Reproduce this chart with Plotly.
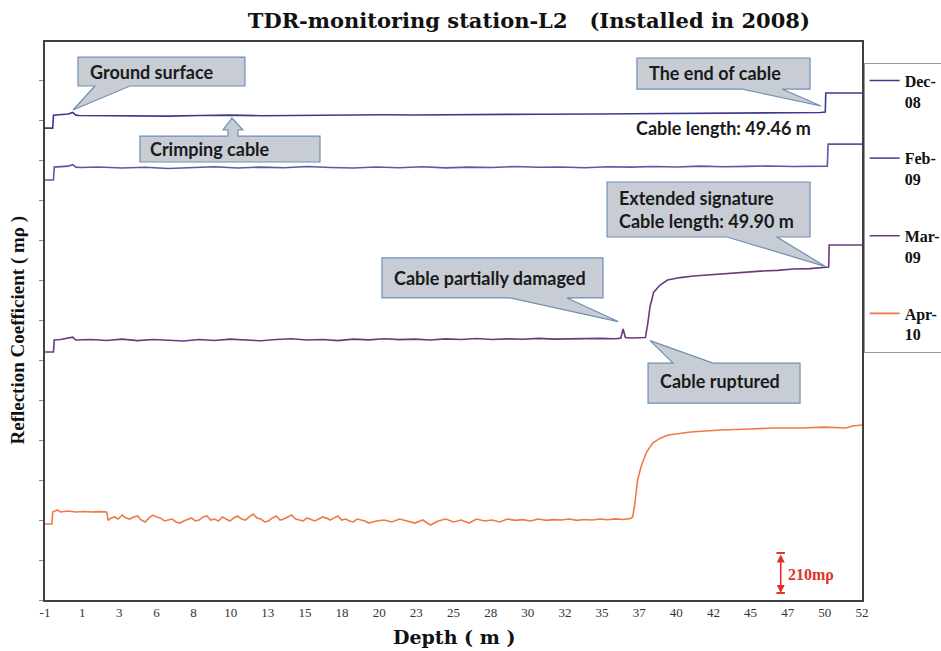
import plotly.graph_objects as go
import numpy as np

# ---------------- data ----------------
x_tick_labels = ["-1", "1", "3", "6", "8", "10", "13", "15", "18", "20", "23", "25",
                 "28", "30", "32", "35", "37", "40", "42", "45", "47", "50", "52"]

# (depth m, reflection coefficient mρ)
dec08_points = [(-1.0, 2478), (-0.5, 2478), (-0.45, 2546), (0.0, 2550), (0.5, 2552), (0.8, 2560),
                (1.0, 2546), (1.2, 2544), (3, 2543), (5, 2545), (7, 2541), (9, 2544), (11, 2546),
                (13, 2543), (15, 2545), (17, 2547), (19, 2546), (21, 2548), (23, 2547), (25, 2549),
                (27, 2548), (29, 2550), (31, 2551), (33, 2550), (35, 2552), (37, 2553), (39, 2554),
                (41, 2556), (43, 2555), (45, 2557), (47, 2558), (48.5, 2557), (49.3, 2560),
                (49.62, 2562), (49.65, 2662), (52.0, 2662)]

feb09_points = [(-1.0, 2205), (-0.45, 2205), (-0.4, 2273), (0.0, 2276), (0.5, 2278), (0.8, 2286),
                (1.0, 2273), (1.3, 2271), (2.5, 2274), (4, 2268), (5.5, 2272), (7, 2266),
                (8.5, 2271), (10, 2275), (11.5, 2268), (13, 2273), (14.5, 2270), (16, 2276),
                (17.5, 2271), (19, 2268), (20.5, 2274), (22, 2270), (23.5, 2275), (25, 2269),
                (26.5, 2273), (28, 2271), (29.5, 2276), (31, 2272), (32.5, 2274), (34, 2270),
                (35.5, 2275), (37, 2273), (38.5, 2276), (40, 2274), (41.5, 2278), (43, 2275),
                (44.5, 2277), (46, 2279), (47.5, 2276), (49, 2279), (49.75, 2278), (49.8, 2394),
                (52.0, 2394)]

mar09_points = [(-1.0, 1302), (-0.45, 1302), (-0.4, 1365), (0.0, 1368), (0.8, 1380), (1.0, 1365),
                (2, 1368), (3, 1363), (4, 1370), (5, 1362), (6, 1368), (7, 1365), (8, 1360),
                (9, 1368), (10, 1363), (11, 1370), (12, 1366), (13, 1361), (14, 1368), (15, 1372),
                (16, 1365), (17, 1368), (18, 1362), (19, 1370), (20, 1366), (21, 1372), (22, 1367),
                (23, 1370), (24, 1365), (25, 1371), (26, 1368), (27, 1373), (28, 1368), (29, 1371),
                (30, 1369), (31, 1374), (32, 1370), (33, 1372), (34, 1371), (35, 1374), (36, 1372),
                (36.35, 1375), (36.5, 1423), (36.65, 1378), (37.0, 1376), (37.5, 1376),
                (37.95, 1378), (38.1, 1450), (38.25, 1540), (38.48, 1615), (38.9, 1654),
                (39.39, 1680), (40.2, 1693), (41.08, 1701), (42.2, 1708), (43.29, 1717),
                (44.4, 1722), (45.43, 1727), (46.5, 1731), (47.57, 1738), (48.6, 1740),
                (49.52, 1746), (49.84, 1748), (49.87, 1864), (52.0, 1864)]

apr10_points = [(-1.0, 399), (-0.55, 399), (-0.5, 462), (-0.2, 473), (0.0, 462), (0.5, 467),
                (1.0, 462), (1.5, 465), (2.0, 462), (2.5, 464), (3.0, 462), (3.1, 418),
                (3.25, 430), (3.5, 436), (3.75, 425), (4.0, 446), (4.25, 431), (4.5, 425),
                (4.75, 436), (5.0, 441), (5.25, 420), (5.5, 410), (5.75, 431), (6.0, 446),
                (6.25, 436), (6.5, 430), (6.75, 415), (7.0, 420), (7.25, 425), (7.5, 410),
                (7.75, 404), (8.0, 415), (8.25, 425), (8.5, 431), (8.75, 415), (9.0, 420),
                (9.25, 436), (9.5, 441), (9.75, 420), (10.0, 425), (10.25, 415), (10.5, 436),
                (10.75, 425), (11.0, 415), (11.25, 431), (11.5, 441), (11.75, 425), (12.0, 420),
                (12.25, 436), (12.5, 451), (12.75, 431), (13.0, 425), (13.25, 410), (13.5, 415),
                (13.75, 431), (14.0, 441), (14.25, 420), (14.5, 425), (14.75, 436), (15.0, 446),
                (15.25, 425), (15.5, 420), (15.75, 415), (16.0, 431), (16.25, 425), (16.5, 415),
                (16.75, 425), (17.0, 436), (17.25, 430), (17.5, 420), (17.75, 431), (18.0, 441),
                (18.25, 420), (18.5, 425), (18.75, 415), (19.0, 410), (19.25, 425), (19.5, 420),
                (19.75, 415), (20.0, 404), (20.5, 415), (21.0, 420), (21.5, 410), (22.0, 425),
                (22.5, 415), (23.0, 404), (23.5, 420), (24.0, 394), (24.5, 415), (25.0, 425),
                (25.5, 410), (26.0, 420), (26.5, 404), (27.0, 425), (27.5, 415), (28.0, 420),
                (28.5, 410), (29.0, 425), (29.5, 418), (30.0, 422), (30.5, 415), (31.0, 425),
                (31.5, 418), (32.0, 422), (32.5, 420), (33.0, 425), (33.5, 418), (34.0, 423),
                (34.5, 420), (35.0, 425), (35.5, 421), (36.0, 426), (36.5, 423), (37.0, 428),
                (37.12, 436), (37.25, 499), (37.44, 630), (37.7, 709), (38.03, 777),
                (38.42, 824), (38.94, 851), (39.45, 866), (40.88, 882), (42.83, 893),
                (44.78, 898), (46.21, 903), (48.03, 903), (49.6, 908), (50.95, 903), (51.4, 914),
                (52.0, 919)]

series = [
    ("Dec-<br>08", dec08_points, "#3b3a8e"),
    ("Feb-<br>09", feb09_points, "#5a58a8"),
    ("Mar-<br>09", mar09_points, "#6a3a7e"),
    ("Apr-<br>10", apr10_points, "#f07a45"),
]

fig = go.Figure()
for name, pts, col in series:
    xs = [p[0] for p in pts]
    ys = [p[1] for p in pts]
    fig.add_trace(go.Scatter(x=xs, y=ys, mode="lines", name=name, legendgroup=name,
                             line=dict(color=col, width=1.6)))

BOX_FILL = "#c8cdd5"
BOX_LINE = "#6f8fb5"
CALLOUT_FONT = dict(family="Lato", size=18, color="#1a1a1a", weight="bold")

shapes = []
annotations = []

def pt(p):
    return f"{p[0]},{p[1]}"

def callout_bottom(x0, x1, y0, y1, b1, b2, tip):
    path = (f"M{pt((x0, y1))} L{pt((x1, y1))} L{pt((x1, y0))} L{pt((b2, y0))} "
            f"L{pt(tip)} L{pt((b1, y0))} L{pt((x0, y0))} Z")
    shapes.append(dict(type="path", xref="x", yref="y", path=path, fillcolor=BOX_FILL,
                       line=dict(color=BOX_LINE, width=1.2), layer="above"))

def callout_top(x0, x1, y0, y1, b1, b2, tip):
    path = (f"M{pt((x0, y1))} L{pt((b1, y1))} L{pt(tip)} L{pt((b2, y1))} "
            f"L{pt((x1, y1))} L{pt((x1, y0))} L{pt((x0, y0))} Z")
    shapes.append(dict(type="path", xref="x", yref="y", path=path, fillcolor=BOX_FILL,
                       line=dict(color=BOX_LINE, width=1.2), layer="above"))

def label(text, x, y, anchor="left"):
    annotations.append(dict(text=text, x=x, y=y, xref="x", yref="y", showarrow=False,
                            xanchor=anchor, yanchor="middle", align="left", font=CALLOUT_FONT))

# Ground surface
callout_bottom(1.14, 11.97, 2699, 2851, 2.24, 4.51, (0.82, 2573))
label("Ground surface", 1.79, 2775)
# Crimping cable (block arrow pointing up)
shapes.append(dict(type="path", xref="x", yref="y",
                   path=("M5.16,2436 L10.87,2436 L10.87,2468 L10.55,2468 L11.13,2531 "
                         "L11.84,2468 L11.52,2468 L11.52,2436 L16.84,2436 L16.84,2300 L5.16,2300 Z"),
                   fillcolor=BOX_FILL, line=dict(color=BOX_LINE, width=1.2), layer="above"))
label("Crimping cable", 5.68, 2368)
# The end of cable
callout_bottom(37.40, 48.63, 2683, 2846, 44.22, 46.81, (49.34, 2594))
label("The end of cable", 38.05, 2767)
label("Cable length: 49.46 m", 43.0, 2478, anchor="center")
# Extended signature
callout_bottom(35.46, 48.63, 1906, 2195, 43.24, 46.49, (49.60, 1752))
label("Extended signature<br>Cable length: 49.90 m", 36.11, 2048)
# Cable partially damaged
callout_bottom(20.86, 35.20, 1586, 1796, 29.17, 32.87, (36.18, 1462))
label("Cable partially damaged", 21.51, 1691)
# Cable ruptured
callout_top(38.12, 47.98, 1034, 1244, 39.74, 42.34, (38.25, 1362))
label("Cable ruptured", 38.77, 1150)

# scale bar
for yv in (37, 247):
    shapes.append(dict(type="line", xref="x", yref="y", x0=46.45, x1=47.0, y0=yv, y1=yv,
                       line=dict(color="#e0302a", width=2)))
annotations.append(dict(text="", x=46.73, y=37, ax=46.73, ay=247, xref="x", yref="y",
                        axref="x", ayref="y", showarrow=True, arrowside="end+start",
                        arrowhead=2, arrowsize=1, arrowwidth=1.6, arrowcolor="#e0302a"))
annotations.append(dict(text="210mρ", x=47.05, y=131, xref="x", yref="y", xanchor="left",
                        showarrow=False,
                        font=dict(family="Liberation Serif", size=16, color="#e0302a", weight="bold")))

# axis titles
annotations.append(dict(text="Depth ( m )", x=0.5, y=-0.066, xref="paper", yref="paper",
                        showarrow=False, yanchor="middle",
                        font=dict(family="DejaVu Serif", size=19, color="#111", weight="bold")))
annotations.append(dict(text="Reflection Coefficient ( mρ )", x=-0.033, y=0.483, xref="paper",
                        yref="paper", showarrow=False, textangle=-90, xanchor="center",
                        font=dict(family="Liberation Serif", size=19, color="#111", weight="bold")))

tickvals = list(np.linspace(-1, 52, len(x_tick_labels)))

fig.update_layout(
    width=941, height=651,
    margin=dict(l=45, r=79, t=42, b=51, autoexpand=False),
    paper_bgcolor="white", plot_bgcolor="white",
    title=dict(text="TDR-monitoring station-L2\u00a0\u00a0\u00a0(Installed in 2008)",
               x=0.562, xanchor="center", y=0.969, yanchor="middle",
               font=dict(family="DejaVu Serif", size=21, color="#111", weight="bold")),
    xaxis=dict(range=[-1, 52], tickvals=tickvals, ticktext=x_tick_labels, showgrid=False,
               zeroline=False, showline=True, linecolor="#404040", linewidth=1.5, mirror=True,
               ticks="", tickfont=dict(family="Liberation Serif", size=13, color="#333")),
    yaxis=dict(range=[0, 2930], dtick=210, tick0=0, showticklabels=False, showgrid=False,
               zeroline=False, showline=True, linecolor="#404040", linewidth=1.5, mirror=True,
               ticks="outside", ticklen=4, tickcolor="#888"),
    legend=dict(x=1.002, xanchor="left", y=0.963, yanchor="top", bgcolor="white",
                bordercolor="#999", borderwidth=1, traceorder="grouped", tracegroupgap=33,
                valign="top", itemwidth=30,
                font=dict(family="Liberation Serif", size=16, color="#111", weight="bold")),
    shapes=shapes,
    annotations=annotations,
)

fig.write_html("out.html")
